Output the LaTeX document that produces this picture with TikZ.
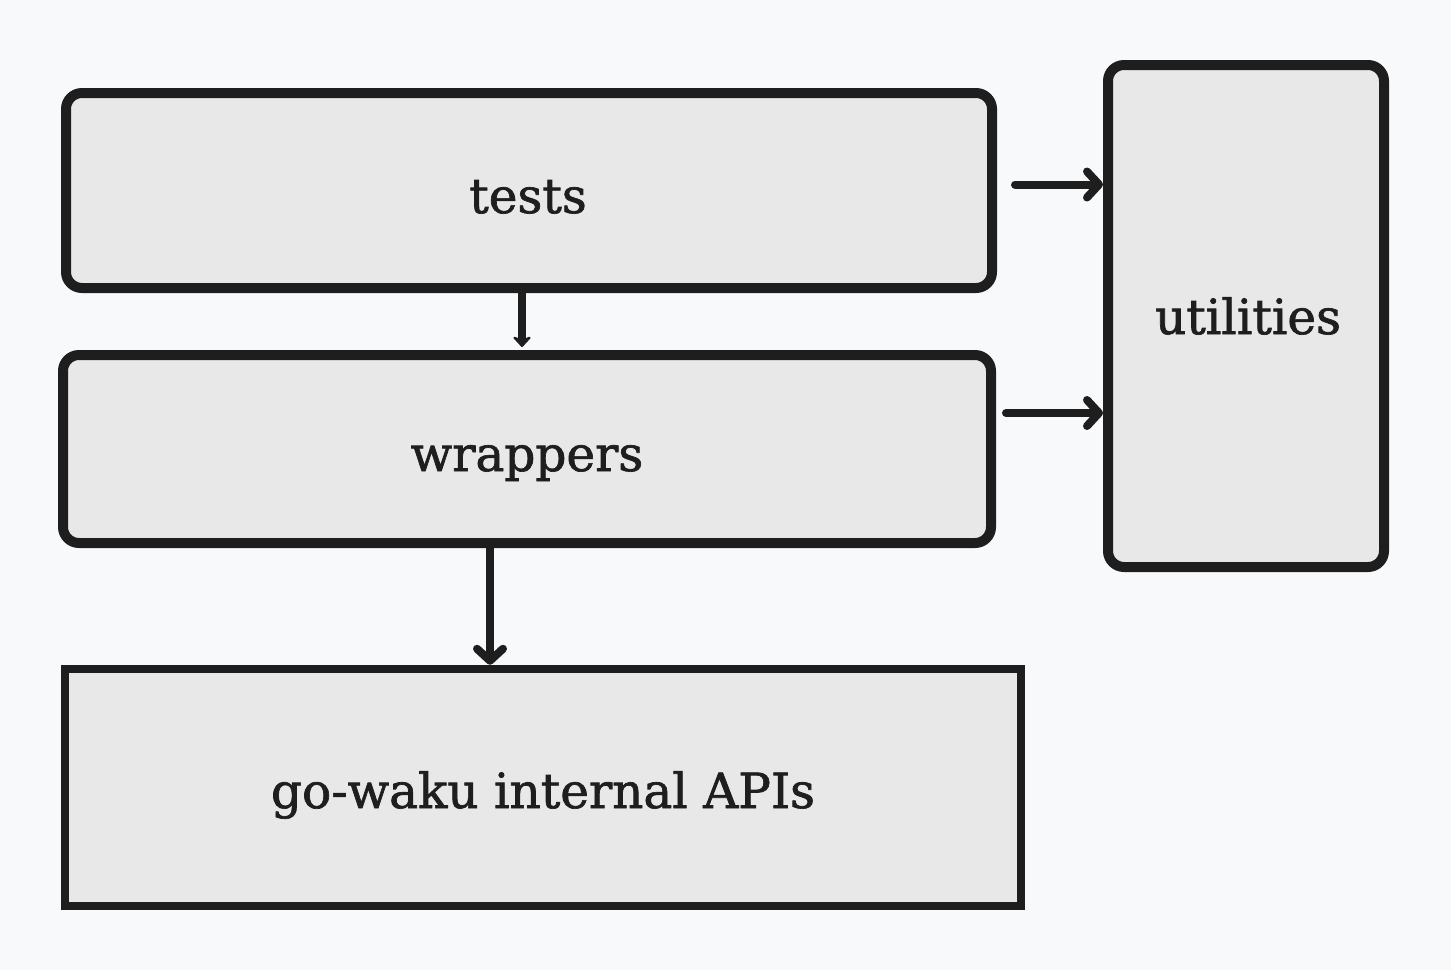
\documentclass[tikz,border=0pt]{standalone}
\usepackage{fontspec}
\setmainfont[FakeBold=1.4]{DejaVu Serif}
\usetikzlibrary{arrows.meta,calc}
\definecolor{bg}{HTML}{F8F9FB}
\definecolor{boxfill}{HTML}{E8E8E8}
\definecolor{ink}{HTML}{1E1E1E}
\tikzset{
  box/.style={draw=ink, fill=boxfill, line width=10pt, rounded corners=16pt,
    inner sep=0pt},
  flatbox/.style={box, rounded corners=0pt, line width=8.5pt},
  lbl/.style={anchor=base, inner sep=0pt, text=ink, font=\fontsize{48.5}{52}\selectfont},
  arr/.style={draw=ink, line width=8pt, line cap=round,
    -{Straight Barb[round, length=12pt, width=26pt]}},
  smallarr/.style={draw=ink, line width=8pt,
    -{Stealth[length=12pt, width=22pt, round]}}
}
\begin{document}
\begin{tikzpicture}[x=1pt,y=-1pt]
\useasboundingbox (0,0) rectangle (1451,970);
\fill[bg] (0,0) rectangle (1451,970);
\node[box, minimum width=926pt, minimum height=195pt] (tests) at (529,190.5) {};
\node[box, minimum width=928pt, minimum height=188pt] (wrappers) at (527,449) {};
\node[box, minimum width=276pt, minimum height=502pt] (utilities) at (1246,316) {};
\node[flatbox, minimum width=956pt, minimum height=237pt] (gowaku) at (543,787.5) {};
\node[lbl] (tests-t) at ([yshift=-22.5pt,xshift=-1pt]tests.center) {tests};
\node[lbl] (wrappers-t) at ([yshift=-22pt]wrappers.center) {wrappers};
\node[lbl] (utilities-t) at ([yshift=-18pt,xshift=2pt]utilities.center) {utilities};
\node[lbl] (gowaku-t) at ([yshift=-20.5pt]gowaku.center) {go-waku internal APIs};
\draw[smallarr] ([xshift=-7pt]tests.south) -- ([xshift=-5pt,yshift=3pt]wrappers.north);
\draw[arr, line cap=butt] ([xshift=-37pt]wrappers.south) -- ([xshift=-37pt,yshift=0pt]wrappers.south |- gowaku.north);
\draw[arr] ([xshift=18pt,yshift=6pt]tests.east) -- ([yshift=6pt]tests.east -| utilities.west);
\draw[arr] ([xshift=10pt,yshift=36pt]wrappers.east) -- ([yshift=36pt]wrappers.east -| utilities.west);
\end{tikzpicture}
\end{document}
